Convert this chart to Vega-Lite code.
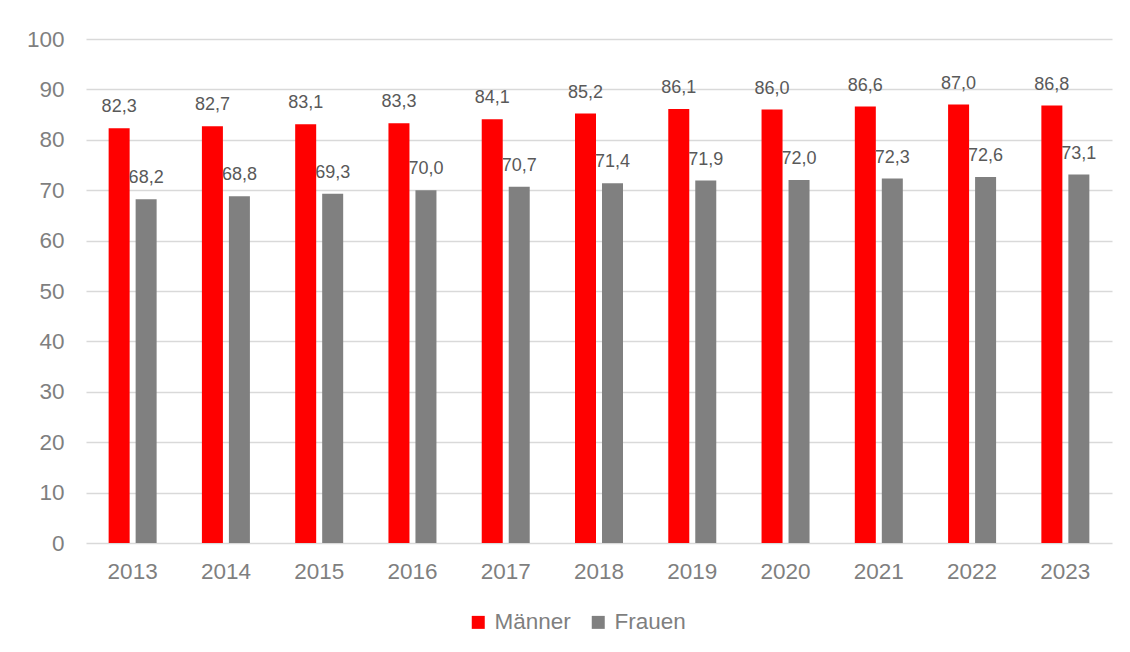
{
  "$schema": "https://vega.github.io/schema/vega-lite/v6.json",
  "width": 1026,
  "height": 504,
  "autosize": {"type": "none"},
  "padding": {"left": 86, "top": 39, "right": 18, "bottom": 109},
  "background": "#ffffff",
  "config": {
    "view": {"stroke": null},
    "font": "Liberation Sans",
    "locale": {"number": {"decimal": ",", "thousands": ".", "grouping": [3], "currency": ["", " €"]}}
  },
  "data": {
    "values": [
      {"year": "2013", "series": "Männer", "value": 82.3},
      {"year": "2014", "series": "Männer", "value": 82.7},
      {"year": "2015", "series": "Männer", "value": 83.1},
      {"year": "2016", "series": "Männer", "value": 83.3},
      {"year": "2017", "series": "Männer", "value": 84.1},
      {"year": "2018", "series": "Männer", "value": 85.2},
      {"year": "2019", "series": "Männer", "value": 86.1},
      {"year": "2020", "series": "Männer", "value": 86.0},
      {"year": "2021", "series": "Männer", "value": 86.6},
      {"year": "2022", "series": "Männer", "value": 87.0},
      {"year": "2023", "series": "Männer", "value": 86.8},
      {"year": "2013", "series": "Frauen", "value": 68.2},
      {"year": "2014", "series": "Frauen", "value": 68.8},
      {"year": "2015", "series": "Frauen", "value": 69.3},
      {"year": "2016", "series": "Frauen", "value": 70.0},
      {"year": "2017", "series": "Frauen", "value": 70.7},
      {"year": "2018", "series": "Frauen", "value": 71.4},
      {"year": "2019", "series": "Frauen", "value": 71.9},
      {"year": "2020", "series": "Frauen", "value": 72.0},
      {"year": "2021", "series": "Frauen", "value": 72.3},
      {"year": "2022", "series": "Frauen", "value": 72.6},
      {"year": "2023", "series": "Frauen", "value": 73.1}
    ]
  },
  "encoding": {
    "x": {
      "field": "year", "type": "nominal",
      "scale": {"paddingInner": 0.4854, "paddingOuter": 0.2427},
      "axis": {"title": null, "labelAngle": 0, "labelFontSize": 22.5, "labelColor": "#7F7F7F", "labelPadding": 17, "ticks": false, "domain": false, "grid": false}
    },
    "xOffset": {
      "field": "series", "type": "nominal",
      "scale": {"domain": ["Männer", "Frauen"], "paddingInner": 0.222, "paddingOuter": 0}
    },
    "y": {
      "field": "value", "type": "quantitative",
      "scale": {"domain": [0, 100], "nice": false},
      "axis": {"title": null, "values": [0,10,20,30,40,50,60,70,80,90,100], "labelFontSize": 22.5, "labelColor": "#7F7F7F", "labelPadding": 22, "ticks": false, "domain": false, "grid": true, "gridColor": "#D9D9D9", "gridWidth": 1.3}
    }
  },
  "layer": [
    {
      "mark": {"type": "bar"},
      "encoding": {
        "color": {
          "field": "series", "type": "nominal",
          "scale": {"domain": ["Männer", "Frauen"], "range": ["#FF0000", "#808080"]},
          "legend": {
            "title": null, "orient": "none", "direction": "horizontal",
            "legendX": 381, "legendY": 572,
            "symbolType": "square", "symbolSize": 169, "symbolStrokeWidth": 0,
            "labelFontSize": 22.5, "labelColor": "#7F7F7F", "labelOffset": 5, "columnPadding": 16
          }
        }
      }
    },
    {
      "mark": {"type": "text", "dy": -21, "fontSize": 18, "color": "#595959", "baseline": "middle"},
      "encoding": {
        "text": {"field": "value", "type": "quantitative", "format": ".1f"}
      }
    }
  ]
}
